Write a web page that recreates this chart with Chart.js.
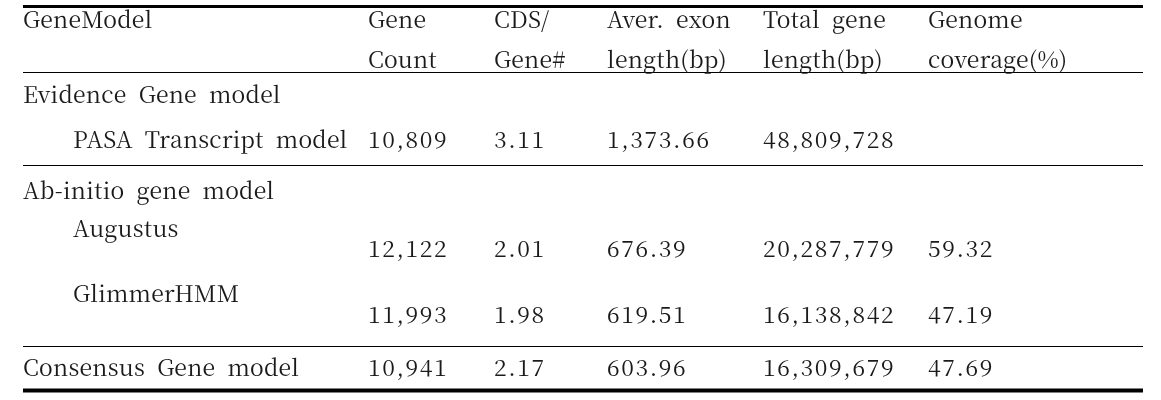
<!DOCTYPE html>
<html>
<head>
<meta charset="utf-8">
<script src="https://cdn.jsdelivr.net/npm/chart.js@4/dist/chart.umd.min.js"></script>
<style>
  html, body { margin: 0; padding: 0; background: #fff; }
  #tabla { display: block; }
</style>
</head>
<body>
<canvas id="tabla" width="1161" height="400"></canvas>
<script>
// datos de la tabla
const encabezados = [
  ["GeneModel"],
  ["Gene", "Count"],
  ["CDS/", "Gene#"],
  ["Aver. exon", "length(bp)"],
  ["Total gene", "length(bp)"],
  ["Genome", "coverage(%)"]
];
const grupos = ["Evidence Gene model", "Ab-initio gene model"];
const modelos = ["PASA Transcript model", "Augustus", "GlimmerHMM", "Consensus Gene model"];
const conteoGenes = [10809, 12122, 11993, 10941];
const cdsPorGen = [3.11, 2.01, 1.98, 2.17];
const largoExon = [1373.66, 676.39, 619.51, 603.96];
const largoTotal = [48809728, 20287779, 16138842, 16309679];
const cobertura = [null, 59.32, 47.19, 47.69];

// posiciones (en unidades de las escalas, 1 unidad = 1 px)
const columnasX = [23, 368, 494, 607, 763, 928];
const encabezadoY = [28, 68];
const grupoY = [103, 199];
const modeloY = [148, 237, 302, 376];
const valorY = [148, 257, 323, 376];
const sangria = [73, 73, 73, 23];
const lineas = [
  { y: 6.5, ancho: 3 },
  { y: 72.5, ancho: 1 },
  { y: 165.5, ancho: 1 },
  { y: 346.5, ancho: 1 },
  { y: 390.5, ancho: 4 }
];
const lineaX = [23, 1143];

function entero(v) {
  return v.toLocaleString("en-US");
}

function decimal(v) {
  if (v === null) return "";
  return v.toLocaleString("en-US", { minimumFractionDigits: 2, maximumFractionDigits: 2 });
}

const pluginTabla = {
  id: "pluginTabla",
  afterDraw(chart) {
    const ctx = chart.ctx;
    const x = chart.scales.x;
    const y = chart.scales.y;

    ctx.save();
    ctx.fillStyle = "#fff";
    ctx.fillRect(0, 0, chart.width, chart.height);

    // reglas horizontales
    ctx.strokeStyle = "#000";
    lineas.forEach(l => {
      ctx.lineWidth = l.ancho;
      ctx.beginPath();
      ctx.moveTo(x.getPixelForValue(lineaX[0]), y.getPixelForValue(l.y));
      ctx.lineTo(x.getPixelForValue(lineaX[1]), y.getPixelForValue(l.y));
      ctx.stroke();
    });

    ctx.fillStyle = "#1a1a1a";
    ctx.font = "23px 'Noto Serif CJK KR', 'Liberation Serif', serif";
    ctx.textBaseline = "alphabetic";
    ctx.textAlign = "left";

    const texto = (t, cx, cy) => {
      ctx.letterSpacing = "0.2px";
      ctx.wordSpacing = "6px";
      ctx.fillText(t, x.getPixelForValue(cx), y.getPixelForValue(cy));
    };
    const numero = (t, cx, cy) => {
      ctx.letterSpacing = "1.6px";
      ctx.wordSpacing = "0px";
      ctx.fillText(t, x.getPixelForValue(cx), y.getPixelForValue(cy));
    };

    encabezados.forEach((lineasTexto, j) => {
      lineasTexto.forEach((t, k) => texto(t, columnasX[j], encabezadoY[k]));
    });

    grupos.forEach((g, i) => texto(g, columnasX[0], grupoY[i]));

    modelos.forEach((m, i) => {
      texto(m, sangria[i], modeloY[i]);
      numero(entero(conteoGenes[i]), columnasX[1], valorY[i]);
      numero(decimal(cdsPorGen[i]), columnasX[2], valorY[i]);
      numero(decimal(largoExon[i]), columnasX[3], valorY[i]);
      numero(entero(largoTotal[i]), columnasX[4], valorY[i]);
      numero(decimal(cobertura[i]), columnasX[5], valorY[i]);
    });

    ctx.restore();
  }
};

new Chart(document.getElementById("tabla"), {
  type: "scatter",
  data: {
    datasets: [{
      data: columnasX.map(cx => ({ x: cx, y: encabezadoY[0] })),
      pointRadius: 0
    }]
  },
  options: {
    responsive: false,
    animation: false,
    devicePixelRatio: 1,
    layout: { padding: 0 },
    plugins: {
      legend: { display: false },
      tooltip: { enabled: false }
    },
    scales: {
      x: { type: "linear", min: 0, max: 1161, display: false },
      y: { type: "linear", min: 0, max: 400, reverse: true, display: false }
    }
  },
  plugins: [pluginTabla]
});
</script>
</body>
</html>
